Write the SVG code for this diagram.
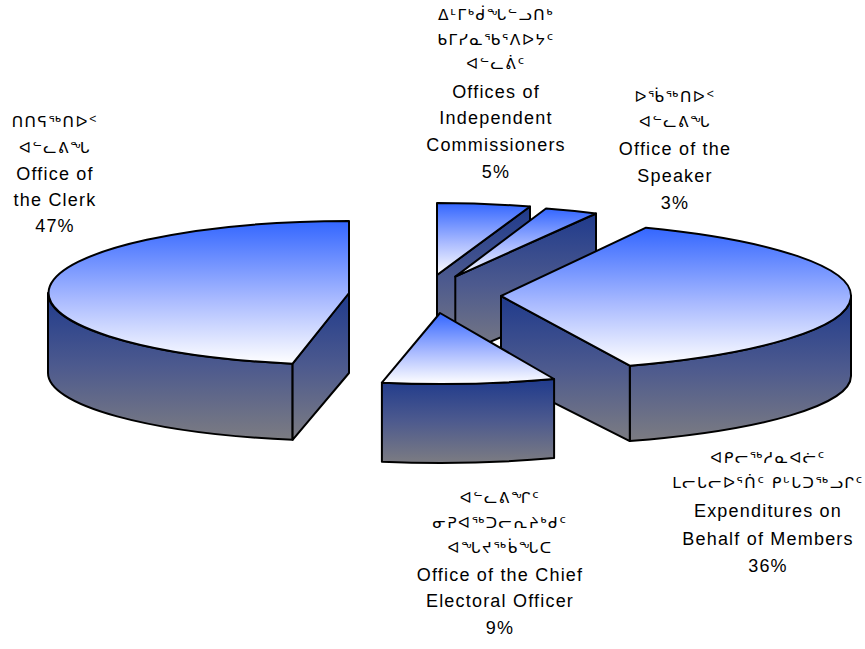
<svg xmlns="http://www.w3.org/2000/svg" width="865" height="649" viewBox="0 0 865 649">
<defs>
<linearGradient id="gTop" x1="0" y1="0" x2="0" y2="1">
<stop offset="0" stop-color="#3366ff"/>
<stop offset="0.55" stop-color="#a9baff"/>
<stop offset="1" stop-color="#ffffff"/>
</linearGradient>
<linearGradient id="gSide" x1="0" y1="0" x2="0" y2="1">
<stop offset="0" stop-color="#1f3a8c"/>
<stop offset="0.5" stop-color="#4d5a8e"/>
<stop offset="1" stop-color="#7c7c82"/>
</linearGradient>
<style>
.top{fill:url(#gTop);stroke:#000;stroke-width:2;stroke-linejoin:round}
.side{fill:url(#gSide);stroke:#000;stroke-width:2;stroke-linejoin:round}
.lbl{font-family:"Liberation Sans",Arial,sans-serif;font-size:18px;text-anchor:middle;letter-spacing:1.2px;fill:#000}
.syl{font-family:"DejaVu Sans","Noto Sans",sans-serif;font-size:15.5px;text-anchor:middle;letter-spacing:1.5px;fill:#000}
</style>
</defs>
<rect width="865" height="649" fill="#fff"/>
<g id="connectors"/>
<g id="slice-commissioners">
<path class="side" d="M437,275 L530,206.5 L530,290.3 L437,355 Z"/>
<path class="top" d="M437,275 L437,203 A301,72 0 0 1 530,206.5 Z"/>
</g>
<g id="slice-speaker">
<path class="side" d="M455.3,276.6 L596,213.5 L596,297 L455.3,356.6 Z"/>
<path class="top" d="M455.3,276.6 L546,208.5 A301,72 0 0 1 596,213.5 Z"/>
</g>
<g id="slice-clerk">
<path class="side" d="M48,293 A301,72 0 0 0 292.6,363.7 L292.6,439.8 A301,68 0 0 1 48,373 Z"/>
<path class="side" d="M349,293 L292.6,363.7 L292.6,439.8 L349,373 Z"/>
<path class="top" d="M349,293 L349,221 A301,72 0 0 0 292.6,363.7 Z"/>
</g>
<g id="slice-expenditures">
<path class="side" d="M851,296 A350,75 0 0 1 629.8,365.7 L629.8,441.1 A350,70 0 0 0 851,376 Z"/>
<path class="side" d="M501,296 L629.8,365.7 L629.8,441.1 L501,376 Z"/>
<path class="top" d="M501,296 L646,227.7 A350,75 0 0 1 629.8,365.7 Z"/>
</g>
<g id="slice-chief">
<path class="side" d="M381.9,382.7 A310,71 0 0 0 554.1,379 L554.1,458.1 A310,70 0 0 1 381.9,461.8 Z"/>
<path class="top" d="M440,313 L381.9,382.7 A310,71 0 0 0 554.1,379 Z"/>
</g>
<g id="label-clerk">
<text class="syl" x="55" y="127">ᑎᑎᕋᖅᑎᐅᑉ</text>
<text class="syl" x="55" y="153">ᐊᓪᓚᕕᖓ</text>
<text class="lbl" x="55" y="180">Office of</text>
<text class="lbl" x="55" y="206">the Clerk</text>
<text class="lbl" x="55" y="232">47%</text>
</g>
<g id="label-commissioners">
<text class="syl" x="496" y="20">ᐃᒻᒥᒃᑰᖓᓪᓗᑎᒃ</text>
<text class="syl" x="496" y="45">ᑲᒥᓯᓇᖃᕐᐱᐅᔭᑦ</text>
<text class="syl" x="496" y="69">ᐊᓪᓚᕖᑦ</text>
<text class="lbl" x="496" y="98">Offices of</text>
<text class="lbl" x="496" y="124">Independent</text>
<text class="lbl" x="496" y="151">Commissioners</text>
<text class="lbl" x="496" y="178">5%</text>
</g>
<g id="label-speaker">
<text class="syl" x="675" y="102">ᐅᖄᖅᑎᐅᑉ</text>
<text class="syl" x="675" y="127">ᐊᓪᓚᕕᖓ</text>
<text class="lbl" x="675" y="155">Office of the</text>
<text class="lbl" x="675" y="182">Speaker</text>
<text class="lbl" x="675" y="209">3%</text>
</g>
<g id="label-expenditures">
<text class="syl" x="768" y="463">ᐊᑭᓕᖅᓱᓇᐊᓖᑦ</text>
<text class="syl" x="768" y="488">ᒪᓕᒐᓕᐅᕐᑏᑦ ᑭᒡᒐᑐᖅᓗᒋᑦ</text>
<text class="lbl" x="768" y="517">Expenditures on</text>
<text class="lbl" x="768" y="545">Behalf of Members</text>
<text class="lbl" x="768" y="572">36%</text>
</g>
<g id="label-chief">
<text class="syl" x="500" y="503">ᐊᓪᓚᕕᖏᑦ</text>
<text class="syl" x="500" y="528">ᓂᕈᐊᖅᑐᓕᕆᔨᒃᑯᑦ</text>
<text class="syl" x="500" y="553">ᐊᖓᔪᖅᑳᖓᑕ</text>
<text class="lbl" x="500" y="581">Office of the Chief</text>
<text class="lbl" x="500" y="607">Electoral Officer</text>
<text class="lbl" x="500" y="634">9%</text>
</g>
</svg>
